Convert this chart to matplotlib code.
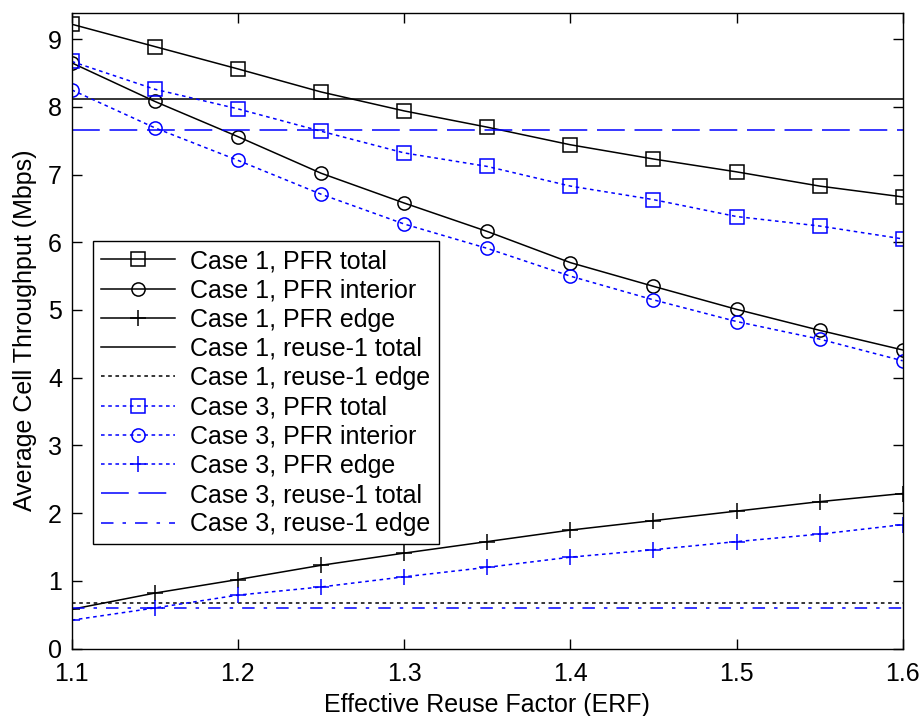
import matplotlib
matplotlib.use("Agg")
import matplotlib.pyplot as plt
import numpy as np

plt.rcParams['font.family'] = ['Liberation Sans', 'DejaVu Sans']
plt.rcParams['lines.scale_dashes'] = False

erf = [1.10, 1.15, 1.20, 1.25, 1.30, 1.35, 1.40, 1.45, 1.50, 1.55, 1.60]

case1_pfr_total = [9.22, 8.89, 8.56, 8.22, 7.94, 7.70, 7.44, 7.23, 7.04, 6.83, 6.67]
case1_pfr_interior = [8.65, 8.08, 7.56, 7.02, 6.58, 6.16, 5.70, 5.35, 5.01, 4.70, 4.41]
case1_pfr_edge = [0.58, 0.82, 1.02, 1.23, 1.41, 1.58, 1.75, 1.89, 2.03, 2.17, 2.29]
case1_reuse1_total = 8.11
case1_reuse1_edge = 0.67

case3_pfr_total = [8.67, 8.26, 7.97, 7.64, 7.32, 7.12, 6.83, 6.63, 6.38, 6.24, 6.05]
case3_pfr_interior = [8.25, 7.69, 7.21, 6.71, 6.27, 5.91, 5.50, 5.15, 4.83, 4.57, 4.25]
case3_pfr_edge = [0.42, 0.60, 0.79, 0.91, 1.06, 1.20, 1.35, 1.46, 1.58, 1.69, 1.83]
case3_reuse1_total = 7.66
case3_reuse1_edge = 0.60

labels = ["Case 1, PFR total", "Case 1, PFR interior", "Case 1, PFR edge",
          "Case 1, reuse-1 total", "Case 1, reuse-1 edge",
          "Case 3, PFR total", "Case 3, PFR interior", "Case 3, PFR edge",
          "Case 3, reuse-1 total", "Case 3, reuse-1 edge"]

xticks = [1.1, 1.2, 1.3, 1.4, 1.5, 1.6]
yticks = [0, 1, 2, 3, 4, 5, 6, 7, 8, 9]

fs = 18.0
fig = plt.figure(figsize=(9.21, 7.16), dpi=100)
ax = fig.add_axes([71.7/921, 1 - 648.6/716, (902.7-71.7)/921, (648.6-12.7)/716])

blue = '#0000ff'
lw = 1.1
ms = 9.5
dot = (0, (2.6, 2.6))
longdash = (0, (20, 7))
dashdot = (0, (9, 6.5, 2.5, 6.5))

x = np.array(erf)
ax.plot(x, case1_pfr_total, color='k', lw=lw, marker='s', ms=ms, mfc='none', mec='k', mew=1.1, label=labels[0])
ax.plot(x, case1_pfr_interior, color='k', lw=lw, marker='o', ms=ms, mfc='none', mec='k', mew=1.1, label=labels[1])
ax.plot(x, case1_pfr_edge, color='k', lw=lw, marker='+', ms=ms+2, mec='k', mew=1.1, label=labels[2])
ax.plot([x[0], x[-1]], [case1_reuse1_total]*2, color='k', lw=lw, label=labels[3])
ax.plot([x[0], x[-1]], [case1_reuse1_edge]*2, color='k', lw=lw, linestyle=dot, label=labels[4])

ax.plot(x, case3_pfr_total, color=blue, lw=lw, linestyle=dot, marker='s', ms=ms, mfc='none', mec=blue, mew=1.1, label=labels[5])
ax.plot(x, case3_pfr_interior, color=blue, lw=lw, linestyle=dot, marker='o', ms=ms, mfc='none', mec=blue, mew=1.1, label=labels[6])
ax.plot(x, case3_pfr_edge, color=blue, lw=lw, linestyle=dot, marker='+', ms=ms+2, mec=blue, mew=1.1, label=labels[7])
ax.plot([x[0], x[-1]], [case3_reuse1_total]*2, color=blue, lw=lw, linestyle=longdash, label=labels[8])
ax.plot([x[0], x[-1]], [case3_reuse1_edge]*2, color=blue, lw=lw, linestyle=dashdot, label=labels[9])

ax.set_xlim(1.1, 1.6)
ax.set_ylim(0, 9.39)
ax.set_xticks(xticks)
ax.set_xticklabels([f"{t:.1f}" for t in xticks])
ax.set_yticks(yticks)
ax.set_yticklabels([str(t) for t in yticks])
ax.tick_params(direction='in', length=7, width=1.0, top=True, right=True,
               labelsize=fs, colors='k')
ax.tick_params(axis='x', pad=10)
ax.tick_params(axis='y', pad=7)
for s in ax.spines.values():
    s.set_linewidth(1.0)
    s.set_color('k')

ax.set_xlabel("Effective Reuse Factor (ERF)", fontsize=fs, labelpad=5)
ax.set_ylabel("Average Cell Throughput (Mbps)", fontsize=fs, labelpad=8)

leg = ax.legend(loc='upper left', bbox_to_anchor=(93/921, 1 - 241/716),
                bbox_transform=fig.transFigure, borderaxespad=0,
                fontsize=fs, fancybox=False, framealpha=1, edgecolor='k',
                numpoints=1, handlelength=2.95, handletextpad=0.62,
                labelspacing=0.21, borderpad=0.32)
leg.get_frame().set_linewidth(1.0)

fig.savefig("out.png", dpi=100)
